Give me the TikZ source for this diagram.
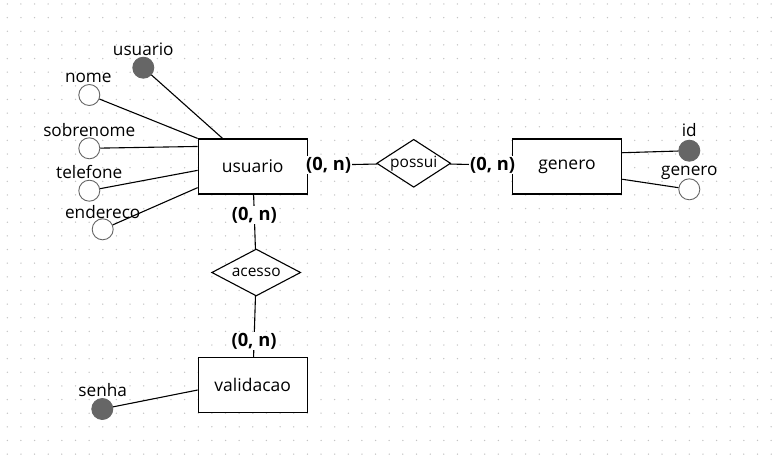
\documentclass[tikz,border=0pt]{standalone}
\usepackage{fontspec}
\setmainfont{Open Sans}
\usetikzlibrary{shapes.geometric}
\definecolor{attrgray}{HTML}{666666}
\definecolor{dotgray}{HTML}{C4C4C4}
\tikzset{
	entity/.style={draw,line width=1.1pt,fill=white,minimum width=109pt,minimum height=55pt,inner sep=0pt,font=\fontsize{17.5}{20}\selectfont},%
	relation/.style={draw,line width=1.1pt,fill=white,diamond,inner sep=0pt,font=\fontsize{15.5}{18}\selectfont},%
	attr/.style={circle,draw=attrgray,line width=0.9pt,fill=white,minimum size=21pt,inner sep=0pt},%
	keyattr/.style={attr,fill=attrgray},%
	attrlabel/.style={anchor=base,inner sep=0pt,font=\fontsize{17.2}{20}\selectfont},%
	card/.style={fill=white,inner sep=1pt,font=\fontsize{18.3}{21}\bfseries\selectfont},%
	link/.style={line width=1.1pt},%
	griddot/.style={dotgray},%
}
\begin{document}
\begin{tikzpicture}[x=1pt,y=-1pt]
		\useasboundingbox (0,0) rectangle (774,460);
		\fill[white] (0,0) rectangle (774,460);
		% Grid {{{
		\foreach \i in {0,...,56} \foreach \j in {0,...,33} \fill[griddot] (7.3+13.64*\i,4+13.64*\j) circle (0.75);
		% }}}
		% Entities and relations {{{
		\node[entity] (usuario) at (252.7,166.5) {usuario};
		\node[entity,minimum width=109.4pt] (genero) at (567,166.5) {genero};
		\node[entity] (validacao) at (252.7,385.2) {validacao};
		\node[relation,aspect=1.54,minimum width=74pt,minimum height=48pt] (possui) at (413.7,163.3) {possui};
		\node[relation,aspect=1.9,minimum width=89pt,minimum height=47pt] (acesso) at (256.2,272.5) {acesso};
		% }}}
		% Attributes {{{
		\node[keyattr] (usr-id) at (143.3,67.7) {};
		\node[attr] (nome) at (89.3,95) {};
		\node[attr] (sobrenome) at (89.3,148.3) {};
		\node[attr] (telefone) at (89.3,190.7) {};
		\node[attr] (endereco) at (102.7,229.3) {};
		\node[keyattr] (gen-id) at (689.3,150.7) {};
		\node[attr] (gen-nome) at (689.3,189.3) {};
		\node[keyattr] (senha) at (102.3,409) {};
		\node[attrlabel] (usr-id-l) at (143.3,56) {usuario};
		\node[attrlabel] (nome-l) at (88.3,82) {nome};
		\node[attrlabel] (sobrenome-l) at (89.3,136) {sobrenome};
		\node[attrlabel] (telefone-l) at (89.3,178) {telefone};
		\node[attrlabel] (endereco-l) at (102.7,218) {endereco};
		\node[attrlabel] (gen-id-l) at (689.3,136) {id};
		\node[attrlabel] (gen-nome-l) at (689.3,175) {genero};
		\node[attrlabel] (senha-l) at (102.7,396) {senha};
		% }}}
		% Links {{{
		\draw[link] (usr-id) -- (usuario.137.8);
		\draw[link] (nome) -- (usuario.153);
		\draw[link] (sobrenome) -- (usuario.160);
		\draw[link] (telefone) -- (usuario.184.7);
		\draw[link] (endereco) -- (usuario.201.8);
		\draw[link] (gen-id) -- (genero.14.2);
		\draw[link] (gen-nome) -- (genero.-13.9);
		\draw[link] (senha) -- (validacao.185);
		\draw[link] (usuario) -- node[card,pos=0.3] (card-up) {(0, n)} (possui);
		\draw[link] (possui) -- node[card,pos=0.69] (card-pg) {(0, n)} (genero);
		\draw[link] (usuario) -- node[card,pos=0.38] (card-ua) {(0, n)} (acesso);
		\draw[link] (acesso) -- node[card,pos=0.74] (card-av) {(0, n)} (validacao);
		% }}}
	\end{tikzpicture}
\end{document}
